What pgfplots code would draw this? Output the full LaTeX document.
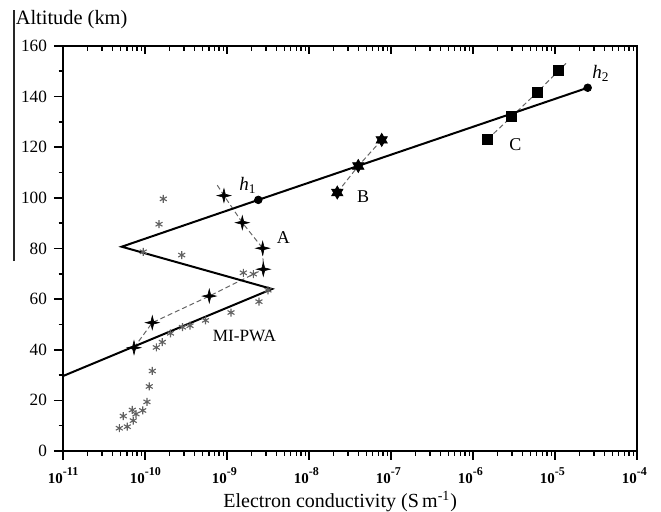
\documentclass[border=0pt]{standalone}
\usepackage{fontspec}
\setmainfont{Liberation Serif}
\usepackage{pgfplots}
\pgfplotsset{compat=1.18}

\pgfdeclareplotmark{fourstar}{%
  \pgfpathmoveto{\pgfqpoint{0pt}{\pgfplotmarksize}}%
  \pgfpathlineto{\pgfqpoint{0.2\pgfplotmarksize}{0.2\pgfplotmarksize}}%
  \pgfpathlineto{\pgfqpoint{\pgfplotmarksize}{0pt}}%
  \pgfpathlineto{\pgfqpoint{0.2\pgfplotmarksize}{-0.2\pgfplotmarksize}}%
  \pgfpathlineto{\pgfqpoint{0pt}{-\pgfplotmarksize}}%
  \pgfpathlineto{\pgfqpoint{-0.2\pgfplotmarksize}{-0.2\pgfplotmarksize}}%
  \pgfpathlineto{\pgfqpoint{-\pgfplotmarksize}{0pt}}%
  \pgfpathlineto{\pgfqpoint{-0.2\pgfplotmarksize}{0.2\pgfplotmarksize}}%
  \pgfpathclose
  \pgfusepathqfillstroke}

\pgfdeclareplotmark{hexstar}{%
  \pgfpathmoveto{\pgfqpointpolar{90}{\pgfplotmarksize}}%
  \pgfpathlineto{\pgfqpointpolar{210}{\pgfplotmarksize}}%
  \pgfpathlineto{\pgfqpointpolar{330}{\pgfplotmarksize}}%
  \pgfpathclose
  \pgfpathmoveto{\pgfqpointpolar{270}{\pgfplotmarksize}}%
  \pgfpathlineto{\pgfqpointpolar{30}{\pgfplotmarksize}}%
  \pgfpathlineto{\pgfqpointpolar{150}{\pgfplotmarksize}}%
  \pgfpathclose
  \pgfusepathqfillstroke}

\newcommand{\xl}[1]{\makebox[0pt][r]{\fontsize{7.5}{8}\selectfont\textbf{10}}\makebox[0pt][l]{\raisebox{4pt}{\fontsize{6}{6}\selectfont\textbf{#1}}}}

% x is plotted as log10 of the conductivity (S m^-1)
\pgfplotsset{
  logx/.style={
    scale only axis, width=287pt, height=202.5pt,
    xmin=-11, xmax=-4,
    ymin=0, ymax=160,
    xtick={-11,-10,-9,-8,-7,-6,-5,-4},
    tick style={black, line width=0.8pt},
    axis line style={line width=1pt},
  }
}

\begin{document}
\begin{tikzpicture}
\begin{axis}[
  logx,
  ytick={0,20,...,160}, minor y tick num=1,
  xtick pos=left, ytick pos=left, tick align=outside,
  major tick length=4.5pt, minor tick length=2.2pt,
  /pgf/number format/assume math mode=true,
  yticklabel style={font=\fontsize{8.6}{10}\selectfont},
  xticklabels={\xl{-11},\xl{-10},\xl{-9},\xl{-8},\xl{-7},\xl{-6},\xl{-5},\xl{-4}},
  xticklabel style={anchor=base, yshift=-12pt, inner sep=0pt},
  xlabel={Electron conductivity (S\,m\textsuperscript{-1})},
  xlabel style={at={(axis description cs:0.483,0)}, anchor=base, yshift=-28.5pt, font=\fontsize{10}{12}\selectfont},
  clip=false,
]
% asterisks
\addplot[only marks, mark=asterisk, mark size=2pt, black!62, mark options={line width=0.55pt}] coordinates {
(-9.777,99.6) (-9.829,89.6) (-10.021,78.7) (-9.552,77.4) (-8.801,70.4) (-8.679,69.9)
(-8.500,63.5) (-8.610,59.0) (-8.951,54.7) (-9.262,51.6) (-9.451,49.5) (-9.543,48.9)
(-9.689,46.5) (-9.789,43.0) (-9.862,40.9) (-9.911,31.6) (-9.948,25.5) (-9.976,19.4)
(-10.028,16.0) (-10.155,16.2) (-10.110,14.6) (-10.265,13.8) (-10.143,12.0) (-10.216,9.6) (-10.313,9.0)
};
% dashed series A
\addplot[black!60, dash pattern=on 2.5pt off 1.5pt, line width=0.5pt] coordinates {
(-10.134,40.8) (-9.911,50.7) (-9.216,61.2) (-8.557,71.8) (-8.565,80.1) (-8.813,90.2) (-9.037,100.9) (-9.134,105.8)
};
% dashed series B
\addplot[black!60, dash pattern=on 2.5pt off 1.5pt, line width=0.5pt] coordinates {
(-7.655,102.1) (-7.399,112.6) (-7.113,122.9)
};
% dashed series C
\addplot[black!60, dash pattern=on 2.5pt off 1.5pt, line width=0.5pt] coordinates {
(-5.821,123.2) (-5.528,132.1) (-5.216,141.7) (-4.955,150.3) (-4.85,153.6)
};
% solid profile
\addplot[black, line width=1pt] coordinates {
(-11,29.6) (-8.451,64.0) (-10.284,80.7) (-8.618,99.2) (-4.601,143.5)
};
\addplot[only marks, mark=*, mark size=1.9pt, black] coordinates {(-8.618,99.2) (-4.601,143.5)};
% markers
\addplot[only marks, mark=fourstar, mark size=3.4pt, black, mark options={line width=0.3pt}] coordinates {
(-10.134,40.8) (-9.911,50.7) (-9.216,61.2) (-8.557,71.8) (-8.565,80.1) (-8.813,90.2) (-9.037,100.9)
};
\addplot[only marks, mark=hexstar, mark size=3.3pt, black, mark options={line width=0.3pt}] coordinates {
(-7.655,102.1) (-7.399,112.6) (-7.113,122.9)
};
\addplot[only marks, mark=square*, mark size=2.4pt, black] coordinates {
(-5.821,123.2) (-5.528,132.1) (-5.216,141.7) (-4.955,150.3)
};
% x-axis tick marks (bottom outward, top inward)
\pgfplotsinvokeforeach{-11,-10,-9,-8,-7,-6,-5,-4}{
  \draw[black, line width=0.8pt] (axis cs:#1,0) -- ++(0pt,-4.5pt);
  \draw[black, line width=0.8pt] (axis cs:#1,160) -- ++(0pt,-4pt);
}
\pgfplotsinvokeforeach{-10.69897,-10.52288,-10.39794,-10.30103,-10.22185,-10.15490,-10.09691,-10.04576,
                 -9.69897,-9.52288,-9.39794,-9.30103,-9.22185,-9.15490,-9.09691,-9.04576,
                 -8.69897,-8.52288,-8.39794,-8.30103,-8.22185,-8.15490,-8.09691,-8.04576,
                 -7.69897,-7.52288,-7.39794,-7.30103,-7.22185,-7.15490,-7.09691,-7.04576,
                 -6.69897,-6.52288,-6.39794,-6.30103,-6.22185,-6.15490,-6.09691,-6.04576,
                 -5.69897,-5.52288,-5.39794,-5.30103,-5.22185,-5.15490,-5.09691,-5.04576,
                 -4.69897,-4.52288,-4.39794,-4.30103,-4.22185,-4.15490,-4.09691,-4.04576}{
  \draw[black, line width=0.7pt] (axis cs:#1,0) -- ++(0pt,-2.4pt);
  \draw[black, line width=0.7pt] (axis cs:#1,160) -- ++(0pt,-2.4pt);
}
% labels
\node[font=\fontsize{9.5}{11}\selectfont] at (axis cs:-8.744,104.9) {\textit{h}\textsubscript{1}};
\node[font=\fontsize{9.5}{11}\selectfont] at (axis cs:-4.439,149.2) {\textit{h}\textsubscript{2}};
\node[font=\fontsize{9}{11}\selectfont] at (axis cs:-8.311,84.2) {A};
\node[font=\fontsize{9}{11}\selectfont] at (axis cs:-7.341,100.5) {B};
\node[font=\fontsize{9}{11}\selectfont] at (axis cs:-5.482,120.9) {C};
\node[font=\fontsize{8.6}{10}\selectfont] at (axis cs:-8.787,45.4) {MI-PWA};
\node[anchor=base west, inner sep=0pt, font=\fontsize{10.2}{12}\selectfont] at ([xshift=-23.8pt,yshift=10.5pt]rel axis cs:0,1) {Altitude (km)};
\draw[line width=0.6pt, black!85] ([xshift=-24.5pt]axis cs:-11,75) -- ([xshift=-24.5pt,yshift=18pt]rel axis cs:0,1);
\coordinate (O) at (rel axis cs:0,0);
\end{axis}
\pgfresetboundingbox
\path (O) ++(-31.5pt,-30.5pt) rectangle ++(330.5pt,256pt);
\end{tikzpicture}
\end{document}
